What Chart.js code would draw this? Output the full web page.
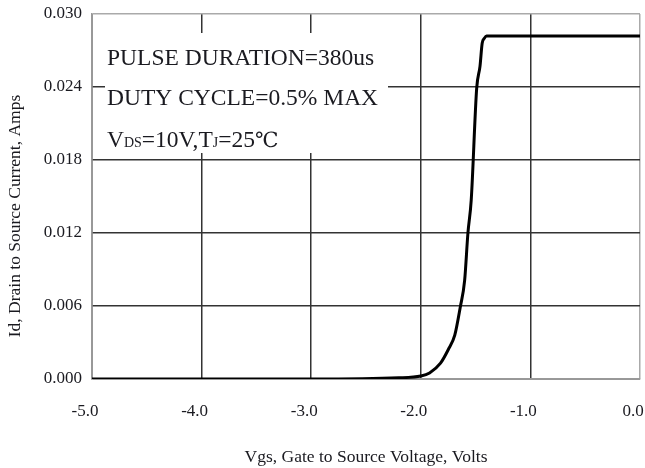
<!DOCTYPE html>
<html>
<head>
<meta charset="utf-8">
<script src="https://cdn.jsdelivr.net/npm/chart.js@4.4.1/dist/chart.umd.min.js"></script>
<style>
  html, body { margin: 0; padding: 0; background: #fff; }
  #wrap { width: 645px; height: 468px; }
</style>
</head>
<body>
<div id="wrap"><canvas id="chart"></canvas></div>
<script>
// transfer curve
const vgs = [-5.0, -4.0, -3.0, -2.2, -2.0, -1.92, -1.82, -1.75, -1.69, -1.64, -1.60, -1.57, -1.54, -1.49, -1.46, -1.44, -1.42, -1.40, -1.0, -0.5, 0.0];
const idAmps = [0, 0, 0, 0.0001, 0.00025, 0.0005, 0.0013, 0.0024, 0.0036, 0.0059, 0.0081, 0.0120, 0.0147, 0.0239, 0.0257, 0.0276, 0.0280, 0.0282, 0.0282, 0.0282, 0.0282];

const xTicks = [-5, -4, -3, -2, -1, 0];
const yTicks = [0, 0.006, 0.012, 0.018, 0.024, 0.030];

const noteLines = ['PULSE DURATION=380us', 'DUTY CYCLE=0.5% MAX'];
const yTitle = 'Id, Drain to Source Current, Amps';
const xTitle = 'Vgs, Gate to Source Voltage, Volts';

const serif = "'Liberation Serif', 'Times New Roman', serif";
const ink = '#1a1a20';

// white box with the test conditions, drawn over the grid
const notePlugin = {
  id: 'notes',
  beforeDatasetsDraw(chart) {
    const { ctx, chartArea: a } = chart;
    ctx.save();
    ctx.fillStyle = '#fff';
    ctx.fillRect(a.left + 13, a.top + 19, 283, 120);

    ctx.fillStyle = ink;
    ctx.textBaseline = 'alphabetic';
    ctx.font = '23.5px ' + serif;
    const x0 = a.left + 15;
    ctx.fillText(noteLines[0], x0, a.top + 51);
    ctx.fillText(noteLines[1], x0, a.top + 91);

    // V_DS=10V,T_J=25℃ with subscripts
    let x = x0;
    const base = a.top + 133;
    const parts = [['V', 23.5], ['DS', 14], ['=10V,T', 23.5], ['J', 14], ['=25', 23.5], ['\u2103', 21]];
    parts.forEach(([t, size], i) => {
      ctx.font = size + 'px ' + (i === 5 ? "'DejaVu Serif', " + serif : serif);
      ctx.fillText(t, x, base);
      x += ctx.measureText(t).width;
    });
    ctx.restore();
  },
  afterDraw(chart) {
    const { ctx } = chart;
    ctx.save();
    ctx.translate(15, 216);
    ctx.rotate(-Math.PI / 2);
    ctx.font = '17.5px ' + serif;
    ctx.fillStyle = ink;
    ctx.textAlign = 'center';
    ctx.textBaseline = 'middle';
    ctx.fillText(yTitle, 0, 0);
    ctx.restore();
  }
};

new Chart(document.getElementById('chart'), {
  type: 'line',
  data: {
    datasets: [{
      data: vgs.map((v, i) => ({ x: v, y: idAmps[i] })),
      borderColor: '#000',
      borderWidth: 3,
      pointRadius: 0,
      fill: false,
      cubicInterpolationMode: 'monotone',
    }],
  },
  options: {
    responsive: true,
    maintainAspectRatio: false,
    animation: false,
    layout: { padding: { top: 14, right: 5, left: 0, bottom: 0 } },
    plugins: {
      legend: { display: false },
      tooltip: { enabled: false },
    },
    scales: {
      x: {
        type: 'linear',
        min: -5,
        max: 0,
        afterBuildTicks: scale => { scale.ticks = xTicks.map(v => ({ value: v })); },
        afterFit: scale => {
          scale.height = 89;
          scale.paddingLeft = 0;
          scale.paddingRight = 0;
        },
        ticks: {
          padding: 22,
          labelOffset: -7,
          color: ink,
          maxRotation: 0,
          font: { family: serif, size: 17 },
          callback: v => v.toFixed(1),
        },
        grid: {
          drawTicks: false,
          lineWidth: 1.5,
          color: c => (c.tick && c.tick.value === 0 ? '#aaa' : '#333'),
        },
        border: { color: '#999', width: 1.5 },
        title: {
          display: true,
          text: xTitle,
          color: ink,
          font: { family: serif, size: 17.5 },
          padding: { top: 0, bottom: 0 },
        },
      },
      y: {
        min: 0,
        max: 0.03,
        afterBuildTicks: scale => { scale.ticks = yTicks.map(v => ({ value: v })); },
        afterFit: scale => {
          scale.width = 92;
          scale.paddingTop = 0;
          scale.paddingBottom = 0;
        },
        ticks: {
          padding: 10,
          color: ink,
          font: { family: serif, size: 17 },
          callback: v => v.toFixed(3),
        },
        grid: {
          drawTicks: false,
          lineWidth: 1.5,
          color: c => (c.tick && c.tick.value === 0.03 ? '#aaa' : '#333'),
        },
        border: { color: '#999', width: 1.5 },
      },
    },
  },
  plugins: [notePlugin],
});
</script>
</body>
</html>
